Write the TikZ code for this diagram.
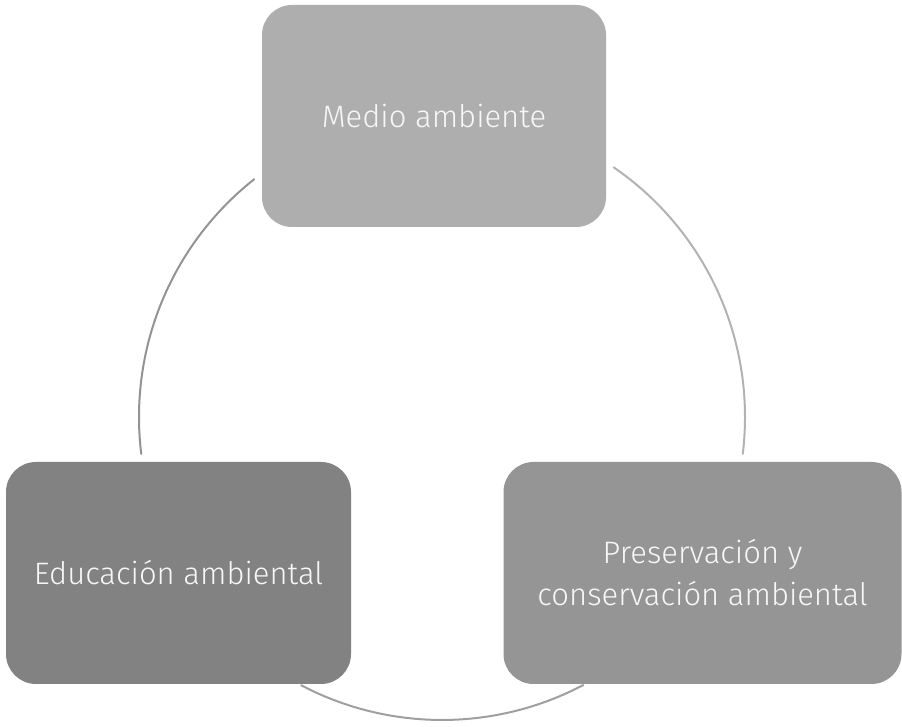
\documentclass[tikz,border=0pt]{standalone}
\usepackage{fontspec}
\setmainfont{Fira Sans}[UprightFont=* Light]
\definecolor{grisA}{HTML}{AEAEAE}
\definecolor{grisB}{HTML}{828282}
\definecolor{grisC}{HTML}{959595}
\begin{document}
\begin{tikzpicture}[x=1pt,y=1pt,
  caja/.style={rounded corners=30pt, minimum height=222pt, inner sep=0pt,
    text=white!94!gray, align=center, font=\fontsize{31}{42}\selectfont},
  arco/.style={line width=2pt, line cap=round}]
\useasboundingbox (0,0) rectangle (902,727);

% cajas
\node[caja, fill=grisA, minimum width=344pt] (medio) at (434,611) {Medio ambiente};
\node[caja, fill=grisB, minimum width=345pt] (educacion) at (178.5,154) {Educación ambiental};
\node[caja, fill=grisC, minimum width=398pt] (preservacion) at (702.5,154) {Preservación y\\conservación ambiental};

% ciclo
\coordinate (centro) at (442,310);
\draw[arco, color=gray!85] ([shift={(128.3:303)}]centro) arc[start angle=128.3, end angle=187, radius=303];
\draw[arco, color=gray!75] ([shift={(242.3:303)}]centro) arc[start angle=242.3, end angle=297.8, radius=303];
\draw[arco, color=gray!60] ([shift={(-7:303)}]centro) arc[start angle=-7, end angle=55.5, radius=303];
\end{tikzpicture}
\end{document}
